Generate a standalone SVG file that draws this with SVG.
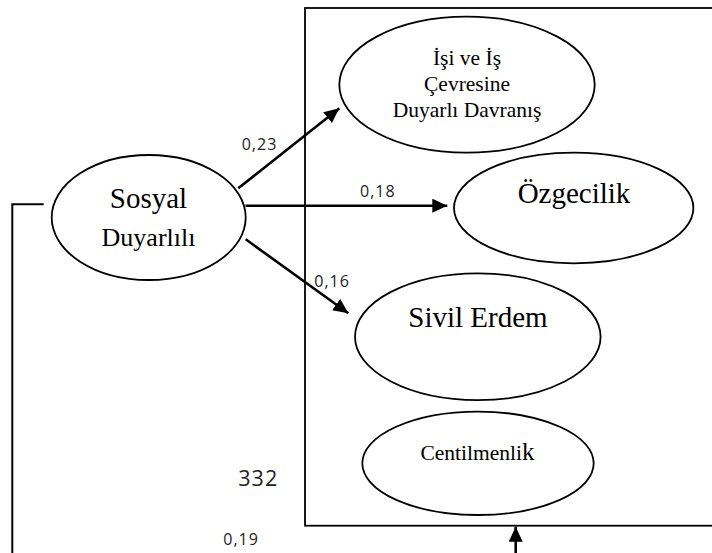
<svg xmlns="http://www.w3.org/2000/svg" width="712" height="553" viewBox="0 0 712 553">
<style>
.node ellipse{fill:#fff;stroke:#000;stroke-width:1.8}
.serif{font-family:'Liberation Serif','Times New Roman','DejaVu Serif',serif;fill:#000;text-anchor:middle}
.num{font-family:'Open Sans','Liberation Sans',sans-serif;fill:#222;letter-spacing:1px}
.edge{stroke:#000;stroke-width:2.6;fill:none}
.line{stroke:#000;stroke-width:2;fill:none}
</style>
<defs>
<marker id="arr" markerUnits="userSpaceOnUse" markerWidth="16" markerHeight="14" viewBox="0 0 16 14" refX="15" refY="7" orient="auto">
<path d="M0,0 L15,7 L0,14 Z" fill="#000"/>
</marker>
</defs>
<rect id="frame" x="305" y="8" width="420" height="517.7" fill="none" stroke="#000" stroke-width="1.8"/>
<g id="connectors">
<polyline class="line" points="43.7,204.3 12.3,204.3 12.3,553"/>
<line class="edge" x1="238.3" y1="188.3" x2="339.3" y2="108.3" marker-end="url(#arr)"/>
<line class="edge" x1="245.5" y1="205.7" x2="447.3" y2="205.7" marker-end="url(#arr)"/>
<line class="edge" x1="245.7" y1="239.3" x2="348.3" y2="313.3" marker-end="url(#arr)"/>
<line class="edge" x1="515.7" y1="553" x2="515.7" y2="526.7" marker-end="url(#arr)"/>
</g>
<g id="sosyal" class="node">
<ellipse cx="148.7" cy="217.5" rx="97" ry="62.5"/>
<text class="serif" font-family="Liberation Serif, serif" x="148.5" y="208.3" font-size="29">Sosyal</text>
<text class="serif" font-family="Liberation Serif, serif" x="148.5" y="246" font-size="26">Duyarlılı</text>
</g>
<g id="isi" class="node">
<ellipse cx="467" cy="84.7" rx="127.7" ry="68"/>
<text class="serif" font-family="Liberation Serif, serif" x="467" y="65" font-size="21.5">İşi ve İş</text>
<text class="serif" font-family="Liberation Serif, serif" x="467" y="90.5" font-size="21.5">Çevresine</text>
<text class="serif" font-family="Liberation Serif, serif" x="467" y="117.3" font-size="21.5">Duyarlı Davranış</text>
</g>
<g id="ozgecilik" class="node">
<ellipse cx="573.7" cy="208" rx="119.7" ry="55.3"/>
<text class="serif" font-family="Liberation Serif, serif" x="574" y="202.7" font-size="29">Özgecilik</text>
</g>
<g id="sivil" class="node">
<ellipse cx="477.8" cy="336.7" rx="122.8" ry="63.4"/>
<text class="serif" font-family="Liberation Serif, serif" x="478" y="326.7" font-size="29">Sivil Erdem</text>
</g>
<g id="centilmenlik" class="node">
<ellipse cx="478" cy="463.3" rx="115.7" ry="51.7"/>
<text class="serif" font-family="Liberation Serif, serif" x="477.5" y="460" font-size="21.5">Centilmenli<tspan font-size="25">k</tspan></text>
</g>
<g id="labels">
<text class="num" x="241.7" y="150" font-size="16">0,23</text>
<text class="num" x="360" y="197.3" font-size="16">0,18</text>
<text class="num" x="314.3" y="287.3" font-size="16">0,16</text>
<text class="num" x="238.3" y="486" font-size="21.5" fill="#000">332</text>
<text class="num" x="223.3" y="545" font-size="16">0,19</text>
</g>
</svg>
